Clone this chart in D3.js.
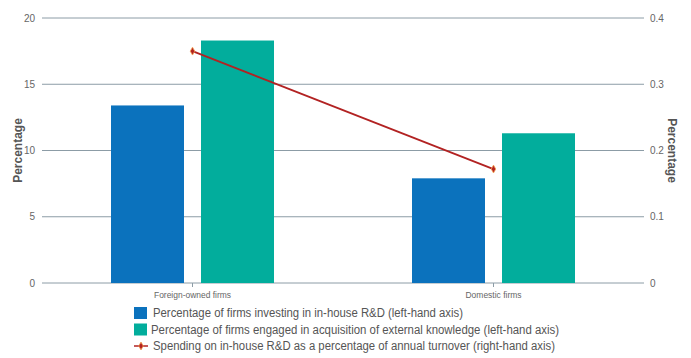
<!DOCTYPE html>
<html><head><meta charset="utf-8">
<script src="https://cdn.jsdelivr.net/npm/d3@7"></script>
<style>
body{margin:0;background:#fff;}
text{font-family:"Liberation Sans Narrow","Liberation Sans",Arial,sans-serif;}
</style></head>
<body><svg id="c" width="691" height="358"></svg>
<script>
const categories = ["Foreign-owned firms", "Domestic firms"];
const inHouseRD = [13.4, 7.9];
const externalKnowledge = [18.3, 11.3];
const spendingTurnover = [0.35, 0.172];
const leftTicks = [0, 5, 10, 15, 20];
const rightTicks = [0, 0.1, 0.2, 0.3, 0.4];
const legendLabels = [
  "Percentage of firms investing in in-house R&D (left-hand axis)",
  "Percentage of firms engaged in acquisition of external knowledge (left-hand axis)",
  "Spending on in-house R&D as a percentage of annual turnover (right-hand axis)"
];
const colors = ["#0b72bd", "#02ad9c", "#b22222"];

const svg = d3.select("#c");
const x0 = 42, x1 = 644, yTop = 18, yBot = 283;
const x = d3.scaleBand().domain(categories).range([x0, x1]);
const yL = d3.scaleLinear().domain([0, 20]).range([yBot, yTop]);
const yR = d3.scaleLinear().domain([0, 0.4]).range([yBot, yTop]);
const gridColor = "#8c9ca6";

svg.append("g").selectAll("line").data(leftTicks).join("line")
  .attr("x1", x0).attr("x2", x1)
  .attr("y1", d => yL(d)).attr("y2", d => yL(d))
  .attr("stroke", gridColor).attr("stroke-width", 1);

svg.append("g").selectAll("text").data(leftTicks).join("text")
  .attr("x", 35).attr("y", d => yL(d)).attr("dy", "0.35em")
  .attr("text-anchor", "end").attr("font-size", 10).attr("fill", "#666")
  .text(d => d);
svg.append("g").selectAll("text").data(rightTicks).join("text")
  .attr("x", 650).attr("y", d => yR(d)).attr("dy", "0.35em")
  .attr("text-anchor", "start").attr("font-size", 10).attr("fill", "#666")
  .text(d => d);

svg.append("text").attr("transform", `translate(22,${(yTop+yBot)/2}) rotate(-90)`)
  .attr("text-anchor", "middle").attr("font-size", 12).attr("font-weight", "bold")
  .attr("fill", "#555").text("Percentage");
svg.append("text").attr("transform", `translate(668,${(yTop+yBot)/2}) rotate(90)`)
  .attr("text-anchor", "middle").attr("font-size", 12).attr("font-weight", "bold")
  .attr("fill", "#555").text("Percentage");

const barW = 73, gap = 17;
const series = [inHouseRD, externalKnowledge];
series.forEach((vals, si) => {
  svg.append("g").selectAll("rect").data(categories).join("rect")
    .attr("x", (c) => x(c) + x.bandwidth()/2 - (barW + gap/2) + si*(barW + gap))
    .attr("y", (c, i) => yL(vals[i]))
    .attr("width", barW)
    .attr("height", (c, i) => yBot - yL(vals[i]))
    .attr("fill", colors[si]);
});

const catWidths = [77, 56];
const xa = svg.append("g").attr("transform", `translate(0,${yBot})`)
  .call(d3.axisBottom(x).tickSize(4).tickPadding(5));
xa.select(".domain").remove();
xa.selectAll("line").attr("stroke", gridColor);
xa.selectAll("text").attr("font-size", 9).attr("fill", "#666")
  .attr("textLength", (d, i) => catWidths[i]).attr("lengthAdjust", "spacingAndGlyphs")
  .style("font-family", '"Liberation Sans Narrow","Liberation Sans",Arial,sans-serif');

const line = d3.line().x((d, i) => x(categories[i]) + x.bandwidth()/2).y(d => yR(d));
svg.append("path").datum(spendingTurnover).attr("d", line)
  .attr("fill", "none").attr("stroke", colors[2]).attr("stroke-width", 1.8);
svg.append("g").selectAll("path").data(spendingTurnover).join("path")
  .attr("transform", (d, i) => `translate(${x(categories[i]) + x.bandwidth()/2},${yR(d)})`)
  .attr("d", d3.symbol(d3.symbolDiamond, 18)())
  .attr("fill", colors[2]).attr("stroke", "#f5a050").attr("stroke-width", 0.8);

const lg = svg.append("g");
const ly = [313, 329.5, 346];
const lw = [310, 408, 402];
legendLabels.forEach((t, i) => {
  if (i < 2) {
    lg.append("rect").attr("x", 134).attr("y", ly[i] - 6).attr("width", 13).attr("height", 12)
      .attr("fill", colors[i]);
  } else {
    lg.append("line").attr("x1", 134).attr("x2", 148).attr("y1", ly[i]).attr("y2", ly[i])
      .attr("stroke", colors[2]).attr("stroke-width", 1.5);
    lg.append("path").attr("transform", `translate(141,${ly[i]})`)
      .attr("d", d3.symbol(d3.symbolDiamond, 18)())
      .attr("fill", colors[2]).attr("stroke", "#f5a050").attr("stroke-width", 0.8);
  }
  lg.append("text").attr("x", i === 1 ? 151 : 153).attr("y", ly[i]).attr("dy", "0.35em")
    .attr("font-size", 12.5).attr("fill", "#555")
    .attr("textLength", lw[i]).attr("lengthAdjust", "spacingAndGlyphs").text(t);
});
</script></body></html>
